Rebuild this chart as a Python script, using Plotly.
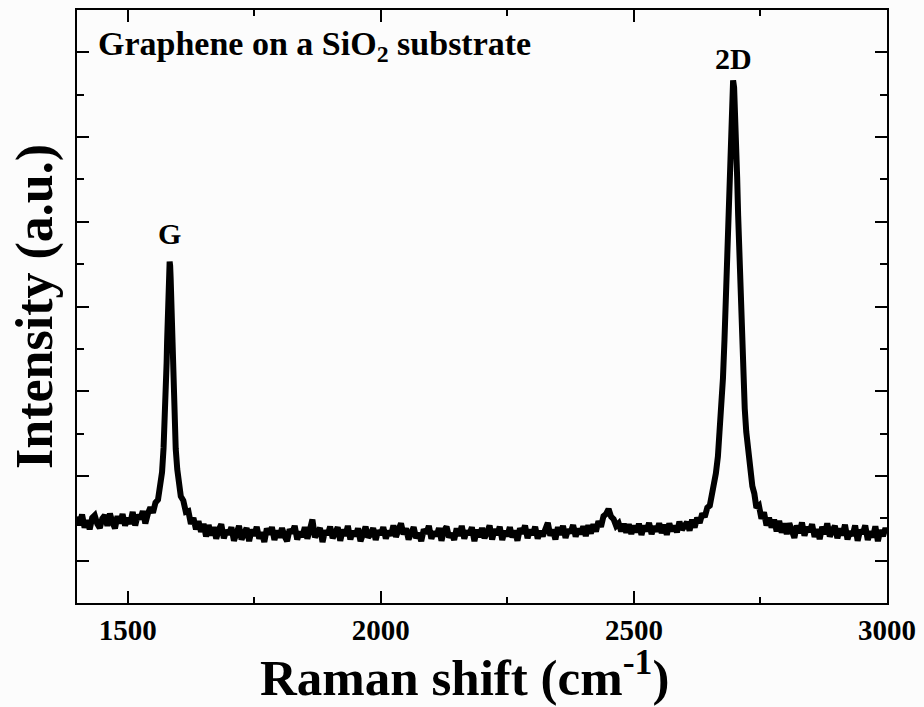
import plotly.graph_objects as go

# ---- data (Raman shift in cm^-1, intensity in a.u.) ----
shift_low = [1400, 1405, 1410, 1415, 1420, 1425, 1430, 1435, 1440, 1445,
             1450, 1455, 1460, 1465, 1470, 1475, 1480, 1485, 1490, 1495,
             1500, 1505, 1510, 1515, 1520, 1525, 1530, 1535, 1540, 1545]
inten_low = [2.04, 1.84, 2.09, 1.78, 1.95, 1.74, 2.01, 2.07, 1.87, 1.77,
             1.99, 2.07, 1.82, 2.11, 1.91, 1.76, 2.05, 1.88, 2.10, 1.83,
             2.01, 1.87, 2.15, 1.83, 2.08, 1.98, 2.17, 1.88, 2.11, 2.26]

shift_g = [1550, 1555, 1560, 1564, 1568, 1571, 1573, 1575, 1577, 1578,
           1579, 1580, 1581, 1582, 1583, 1584, 1585, 1586, 1587, 1588,
           1589, 1591, 1593, 1595, 1598, 1601, 1605, 1610, 1615, 1620,
           1625, 1630, 1635, 1640, 1645, 1650]
inten_g = [2.13, 2.37, 2.44, 2.78, 3.09, 3.66, 4.12, 4.79, 5.67, 6.18,
           6.72, 7.23, 7.68, 7.98, 8.06, 7.96, 7.66, 7.21, 6.69, 6.15,
           5.64, 4.75, 4.08, 3.64, 3.16, 2.82, 2.52, 2.42, 2.15, 2.17,
           1.87, 2.01, 1.74, 1.93, 1.68, 1.87]

shift_mid = [1655, 1660, 1665, 1670, 1675, 1680, 1685, 1690, 1695, 1700,
             1705, 1710, 1715, 1720, 1725, 1730, 1735, 1740, 1745, 1750,
             1755, 1760, 1765, 1770, 1775, 1780, 1785, 1790, 1795, 1800,
             1805, 1810, 1815, 1820, 1825, 1830, 1835, 1840, 1845, 1850,
             1855, 1860, 1865, 1870, 1875, 1880, 1885, 1890, 1895, 1900,
             1905, 1910, 1915, 1920, 1925, 1930, 1935, 1940, 1945, 1950,
             1955, 1960, 1965, 1970, 1975, 1980, 1985, 1990, 1995, 2000,
             2005, 2010, 2015, 2020, 2025, 2030, 2035, 2040, 2045, 2050,
             2055, 2060, 2065, 2070, 2075, 2080, 2085, 2090, 2095, 2100,
             2105, 2110, 2115, 2120, 2125, 2130, 2135, 2140, 2145, 2150,
             2155, 2160, 2165, 2170, 2175, 2180, 2185, 2190, 2195, 2200,
             2205, 2210, 2215, 2220, 2225, 2230, 2235, 2240, 2245, 2250,
             2255, 2260, 2265, 2270, 2275, 2280, 2285, 2290, 2295, 2300,
             2305, 2310, 2315, 2320, 2325, 2330, 2335, 2340, 2345, 2350,
             2355, 2360, 2365, 2370, 2375, 2380, 2385, 2390, 2395, 2400]
inten_mid = [1.57, 1.84, 1.60, 1.79, 1.52, 1.73, 1.86, 1.53, 1.71, 1.63,
             1.79, 1.47, 1.70, 1.82, 1.50, 1.61, 1.77, 1.46, 1.73, 1.59,
             1.80, 1.52, 1.67, 1.44, 1.76, 1.62, 1.79, 1.49, 1.71, 1.55,
             1.77, 1.58, 1.46, 1.74, 1.65, 1.82, 1.50, 1.68, 1.56, 1.79,
             1.52, 1.73, 1.97, 1.55, 1.64, 1.77, 1.44, 1.71, 1.61, 1.80,
             1.53, 1.67, 1.79, 1.47, 1.73, 1.59, 1.82, 1.50, 1.70, 1.58,
             1.76, 1.46, 1.68, 1.80, 1.55, 1.62, 1.77, 1.49, 1.71, 1.61,
             1.79, 1.52, 1.70, 1.59, 1.83, 1.56, 1.73, 1.88, 1.62, 1.76,
             1.50, 1.70, 1.79, 1.53, 1.65, 1.46, 1.74, 1.64, 1.82, 1.52,
             1.68, 1.58, 1.77, 1.47, 1.71, 1.80, 1.55, 1.64, 1.49, 1.76,
             1.59, 1.82, 1.52, 1.70, 1.62, 1.79, 1.46, 1.73, 1.56, 1.77,
             1.53, 1.67, 1.83, 1.50, 1.74, 1.61, 1.80, 1.49, 1.70, 1.58,
             1.79, 1.55, 1.71, 1.47, 1.76, 1.64, 1.83, 1.53, 1.73, 1.61,
             1.80, 1.52, 1.70, 1.58, 1.77, 1.89, 1.59, 1.73, 1.50, 1.79,
             1.61, 1.82, 1.54, 1.73, 1.66, 1.84, 1.57, 1.75, 1.63, 1.81]

shift_bump = [2405, 2410, 2415, 2420, 2425, 2430, 2435, 2440, 2445, 2450,
              2455, 2460, 2465, 2470, 2475, 2480, 2485, 2490, 2495, 2500,
              2505, 2510, 2515, 2520, 2525, 2530, 2535, 2540, 2545, 2550,
              2555, 2560, 2565, 2570, 2575, 2580, 2585, 2590, 2595, 2600]
inten_bump = [1.58, 1.84, 1.64, 1.86, 1.69, 1.93, 1.80, 2.05, 2.10, 2.22,
              2.04, 1.98, 1.82, 1.88, 1.69, 1.87, 1.66, 1.86, 1.63, 1.83,
              1.67, 1.87, 1.61, 1.82, 1.70, 1.89, 1.63, 1.81, 1.69, 1.88,
              1.65, 1.85, 1.61, 1.88, 1.70, 1.82, 1.67, 1.92, 1.73, 1.86]

shift_2d = [2605, 2610, 2615, 2620, 2625, 2630, 2635, 2640, 2645, 2650,
            2654, 2658, 2662, 2666, 2670, 2673, 2676, 2679, 2682, 2684,
            2686, 2688, 2690, 2692, 2694, 2696, 2698, 2700, 2702, 2704,
            2706, 2708, 2710, 2713, 2716, 2719, 2722, 2726, 2730, 2734,
            2738, 2742, 2747, 2752, 2757, 2762, 2767, 2772, 2777, 2782,
            2787, 2792, 2797]
inten_2d = [1.91, 1.71, 1.97, 1.78, 2.01, 1.89, 2.11, 2.03, 2.25, 2.30,
            2.55, 2.76, 3.06, 3.46, 4.04, 4.59, 5.31, 6.22, 7.36, 8.24,
            9.14, 10.06, 10.94, 11.66, 12.17, 12.34, 12.17, 11.66, 10.94, 10.06,
            9.14, 8.24, 7.36, 6.22, 5.31, 4.59, 4.04, 3.49, 3.06, 2.76,
            2.58, 2.25, 2.30, 1.99, 2.14, 1.83, 2.01, 1.78, 1.97, 1.69,
            1.94, 1.66, 1.88]

shift_high = [2802, 2807, 2812, 2817, 2822, 2827, 2832, 2837, 2842, 2847,
              2852, 2857, 2862, 2867, 2872, 2877, 2882, 2887, 2892, 2897,
              2902, 2907, 2912, 2917, 2922, 2927, 2932, 2937, 2942, 2947,
              2952, 2957, 2962, 2967, 2972, 2977, 2982, 2987, 2992, 2997,
              3000]
inten_high = [1.63, 1.88, 1.69, 1.54, 1.83, 1.65, 1.90, 1.59, 1.79, 1.68,
              1.86, 1.56, 1.74, 1.51, 1.80, 1.63, 1.88, 1.57, 1.71, 1.82,
              1.53, 1.76, 1.60, 1.85, 1.50, 1.69, 1.59, 1.83, 1.47, 1.72,
              1.64, 1.83, 1.49, 1.69, 1.55, 1.81, 1.46, 1.72, 1.58, 1.77,
              1.65]

x_major_ticks = [1500, 2000, 2500, 3000]
x_tick_labels = ["1500", "2000", "2500", "3000"]
x_minor_ticks = [1750, 2250, 2750]

peak_labels = ["G", "2D"]
peak_pos = [1583, 2696]
peak_label_y = [8.28, 12.42]

shift = shift_low + shift_g + shift_mid + shift_bump + shift_2d + shift_high
intensity = inten_low + inten_g + inten_mid + inten_bump + inten_2d + inten_high

FONT = "Liberation Serif, Times New Roman, serif"
BG = "#fcfcfc"

fig = go.Figure()
fig.add_trace(go.Scatter(
    x=shift, y=intensity, mode="lines",
    line=dict(color="black", width=6),
    hoverinfo="skip", showlegend=False,
))

for lab, px, py in zip(peak_labels, peak_pos, peak_label_y):
    fig.add_annotation(x=px, y=py, xref="x", yref="y", text=lab, showarrow=False,
                       yanchor="bottom", xanchor="center",
                       font=dict(family=FONT, size=30, color="black", weight="bold"))

fig.add_annotation(x=0.024, y=0.978, xref="paper", yref="paper",
                   text="Graphene on a SiO<sub>2</sub> substrate", showarrow=False,
                   xanchor="left", yanchor="top",
                   font=dict(family=FONT, size=34, color="black", weight="bold"))

# x-axis title (placed as an annotation so it sits slightly left of centre, as in the reference)
fig.add_annotation(x=0.479, y=-0.1748, xref="paper", yref="paper",
                   text="Raman shift (cm<sup>-1</sup>)", showarrow=False,
                   xanchor="center", yanchor="bottom", borderpad=0,
                   font=dict(family=FONT, size=51, color="black", weight="bold"))

axis_common = dict(
    showline=True, linecolor="black", linewidth=2, mirror="ticks",
    ticks="inside", tickcolor="black", tickwidth=2,
    showgrid=False, zeroline=False,
)

fig.update_xaxes(
    range=[1400, 3000], tickmode="array", tickvals=x_major_ticks, ticktext=x_tick_labels,
    ticklen=12,
    minor=dict(tickmode="array", tickvals=x_minor_ticks, ticks="inside", ticklen=6,
               tickwidth=2, tickcolor="black", showgrid=False),
    tickfont=dict(family=FONT, size=29, color="black", weight="bold"),
    **axis_common,
)
fig.update_yaxes(
    range=[0, 14], tick0=1, dtick=2, ticklen=12, showticklabels=False,
    minor=dict(tick0=0, dtick=1, ticks="inside", ticklen=7, tickwidth=2,
               tickcolor="black", showgrid=False),
    title=dict(text="Intensity (a.u.)", standoff=6,
               font=dict(family=FONT, size=52, color="black", weight="bold")),
    **axis_common,
)

fig.update_layout(
    width=924, height=707,
    margin=dict(l=77, r=37, t=8, b=104),
    paper_bgcolor=BG, plot_bgcolor=BG,
    font=dict(family=FONT, color="black"),
    showlegend=False,
)

fig.write_html("out.html", config={"displayModeBar": False})
